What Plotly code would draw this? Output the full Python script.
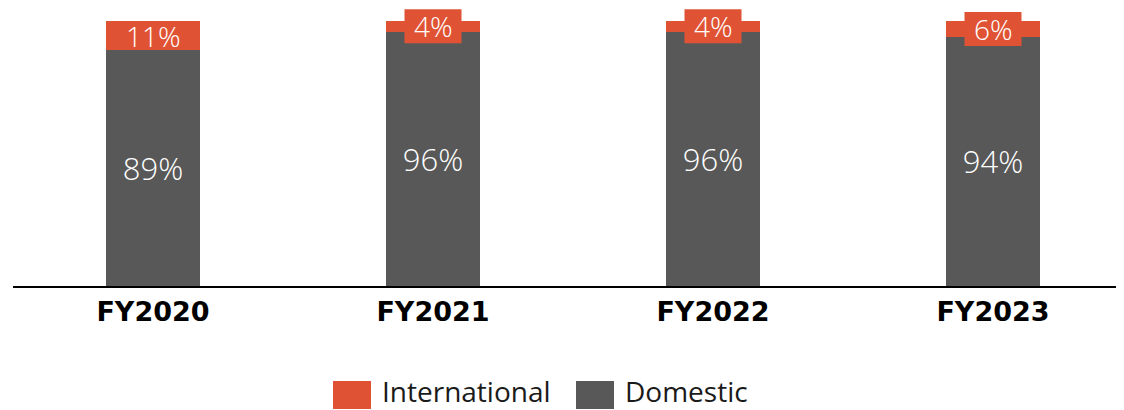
import plotly.graph_objects as go

categories = ["FY2020", "FY2021", "FY2022", "FY2023"]
domestic = [89, 96, 96, 94]
international = [11, 4, 4, 6]
legend_names = ["International", "Domestic"]

ORANGE = "#DF5334"
GRAY = "#585858"
OFF = 8  # page body margin
W, H = 1124 - OFF, 410 - OFF
ML, MR, MT = 13 - OFF, 0, 0
PX_PER_PCT = 2.65
Y_TOP = 100 + (21 - OFF - MT) / PX_PER_PCT
PH = Y_TOP * PX_PER_PCT
MB = H - MT - PH
PW = W - ML - MR
STEP = 280.0  # px per category

light_font = "Open Sans"

fig = go.Figure()
fig.add_trace(go.Bar(
    x=categories, y=domestic, name=legend_names[1], marker_color=GRAY,
    marker_line_width=0, width=0.336,
    text=[f"{v}%" for v in domestic], texttemplate="%{text}",
    textposition="inside", insidetextanchor="middle",
    textfont=dict(family=light_font, size=31, color="white", weight=300),
    showlegend=False,
))
fig.add_trace(go.Bar(
    x=categories, y=international, name=legend_names[0], marker_color=ORANGE,
    marker_line_width=0, width=0.336, showlegend=False,
))

# International labels, with a label box when the segment is too thin
for c, d, i in zip(categories, domestic, international):
    ymid = d + i / 2
    if i * PX_PER_PCT < 24:
        fig.add_shape(type="rect", xref="x", yref="y", xsizemode="pixel", ysizemode="pixel",
                      xanchor=c, yanchor=ymid, x0=-28.5, x1=28.5, y0=-17, y1=17,
                      fillcolor=ORANGE, line_width=0, layer="above")
    fig.add_annotation(
        x=c, y=ymid, xref="x", yref="y", text=f"{i}%", showarrow=False,
        font=dict(family=light_font, size=28, color="white", weight=300),
        yanchor="middle", borderpad=0,
    )

# legend drawn manually (page pixel coords)
def px2paper(px, py):
    return (px - OFF - ML) / PW, (MT + PH - (py - OFF)) / PH

legend_items = [(legend_names[0], ORANGE, 333, 381), (legend_names[1], GRAY, 576, 624)]
for name, col, sx, tx in legend_items:
    x0, y0 = px2paper(sx, 381)
    x1, y1 = px2paper(sx + 38, 409)
    fig.add_shape(type="rect", xref="paper", yref="paper", x0=x0, y0=y0, x1=x1, y1=y1,
                  fillcolor=col, line_width=0)
    ax, ay = px2paper(tx, 391)
    fig.add_annotation(x=ax, y=ay, xref="paper", yref="paper", text=name, showarrow=False,
                       xanchor="left", yanchor="middle", borderpad=0,
                       font=dict(family=light_font, size=28, color="#1a1a1a"))

xmax = PW / STEP - 0.5
fig.update_layout(
    width=W, height=H, barmode="stack",
    margin=dict(l=ML, r=MR, t=MT, b=MB, pad=0),
    plot_bgcolor="white", paper_bgcolor="white",
    xaxis=dict(range=[-0.5, xmax], showline=True, linecolor="black", linewidth=2,
               ticks="", showgrid=False, zeroline=False,
               tickfont=dict(family="DejaVu Sans", size=27, color="black", weight="bold"),
               ticklabelstandoff=1),
    yaxis=dict(range=[0, Y_TOP], visible=False),
    bargap=0.664,
)
fig.write_html("out.html")
